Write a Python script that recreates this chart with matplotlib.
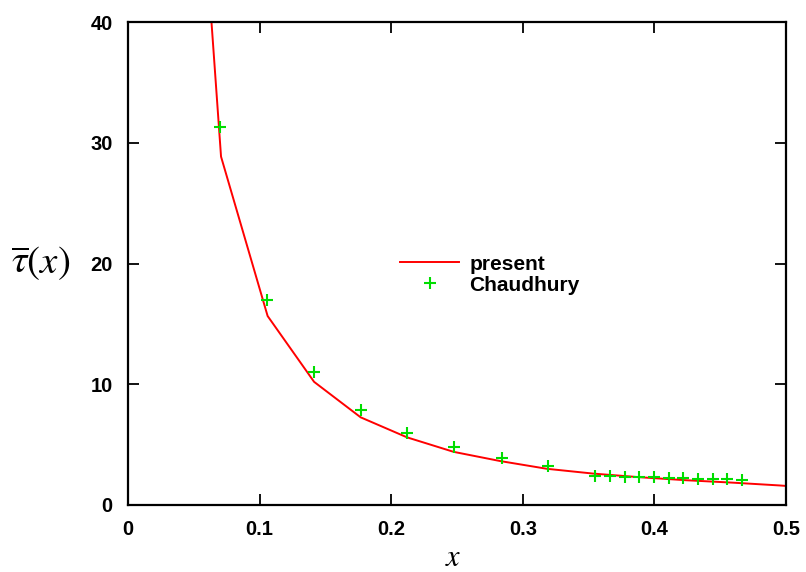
import matplotlib.pyplot as plt
import numpy as np

# present solution (piecewise line)
x_present = [0.0354, 0.0707, 0.1061, 0.1414, 0.1768, 0.2121, 0.2475, 0.2828,
             0.3182, 0.3536, 0.3889, 0.4243, 0.4596, 0.4950, 0.5]
tau_present = [83.0, 28.85, 15.65, 10.2, 7.26, 5.6, 4.4, 3.64,
               3.0, 2.6, 2.3, 2.05, 1.85, 1.62, 1.58]

# Chaudhury data points
x_chaud = [0.0699, 0.1059, 0.1413, 0.1768, 0.2123, 0.2477, 0.284, 0.3194,
           0.3549, 0.3663, 0.3775, 0.3886, 0.3997, 0.4109, 0.422, 0.4331,
           0.4443, 0.4554, 0.4666]
tau_chaud = [31.3, 17.0, 11.04, 7.87, 5.99, 4.77, 3.86, 3.26,
             2.40, 2.37, 2.35, 2.32, 2.29, 2.26, 2.21, 2.18,
             2.15, 2.12, 2.10]

xticks = [0, 0.1, 0.2, 0.3, 0.4, 0.5]
xticklabels = ['0', '0.1', '0.2', '0.3', '0.4', '0.5']
yticks = [0, 10, 20, 30, 40]

plt.rcParams['font.family'] = ['Liberation Sans', 'DejaVu Sans']
plt.rcParams['mathtext.fontset'] = 'stix'

fig = plt.figure(figsize=(8.06, 5.72), dpi=100)
ax = fig.add_axes([128 / 806, 1 - 505 / 572, 658 / 806, 483 / 572])

ax.plot(x_present, tau_present, '-', color='red', lw=1.4, label='present')
ax.plot(x_chaud, tau_chaud, '+', color='#00dd00', ms=8, mew=1.5,
        label='Chaudhury', linestyle='none')

ax.set_xlim(0, 0.5)
ax.set_ylim(0, 40)
ax.set_xticks(xticks)
ax.set_xticklabels(xticklabels)
ax.set_yticks(yticks)
ax.tick_params(direction='in', length=8, width=1.3, top=True, right=True,
               labelsize=14.5)
ax.tick_params(axis='x', pad=11)
ax.tick_params(axis='y', pad=11)
for lab in ax.get_xticklabels() + ax.get_yticklabels():
    lab.set_fontweight('bold')
for s in ax.spines.values():
    s.set_linewidth(1.6)

ax.set_xlabel(r'$x$', fontsize=22, va='baseline')
ax.xaxis.set_label_coords(0.494, -0.127)
ax.set_ylabel(r'$\overline{\tau}(x)$', fontsize=28, rotation=0, va='center')
ax.yaxis.set_label_coords(-0.133, 0.5)

leg = ax.legend(loc='center left', bbox_to_anchor=(0.3976, 0.477), frameon=False,
                prop={'size': 15, 'weight': 'bold'}, handlelength=2.83,
                handletextpad=0.5, labelspacing=0.1, borderpad=0)

fig.savefig('out.png', dpi=100)
